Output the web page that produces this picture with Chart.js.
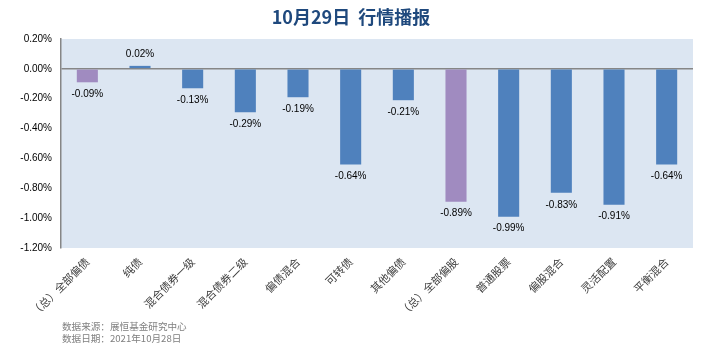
<!DOCTYPE html>
<html><head><meta charset="utf-8">
<script src="https://cdn.jsdelivr.net/npm/chart.js@4/dist/chart.umd.min.js"></script>
<style>html,body{margin:0;padding:0;background:#fff;}canvas{display:block;}</style>
</head><body>
<canvas id="c" width="721" height="355"></canvas>
<script>
const categories = ['（总）全部偏债','纯债','混合债券一级','混合债券二级','偏债混合','可转债','其他偏债','（总）全部偏股','普通股票','偏股混合','灵活配置','平衡混合'];
const values = [-0.09, 0.02, -0.13, -0.29, -0.19, -0.64, -0.21, -0.89, -0.99, -0.83, -0.91, -0.64];
const highlight = [true, false, false, false, false, false, false, true, false, false, false, false];
const yTicks = [0.2, 0, -0.2, -0.4, -0.6, -0.8, -1.0, -1.2];
const titleText = '10月29日  行情播报';
const sourceLines = ['数据来源：展恒基金研究中心', '数据日期：2021年10月28日'];

const BLUE = '#4F81BD', PURPLE = '#A08BC0';

const bgPlugin = {
  id: 'bg',
  beforeDraw(chart) {
    const {ctx, chartArea: a} = chart;
    ctx.save();
    ctx.fillStyle = '#DCE6F2';
    ctx.fillRect(a.left, a.top, a.right - a.left, a.bottom - a.top);
    ctx.restore();
  },
  afterDraw(chart) {
    const ctx = chart.ctx;
    ctx.save();
    ctx.fillStyle = '#1F497D';
    ctx.font = 'bold 18px "Noto Sans CJK SC", sans-serif';
    ctx.textAlign = 'center';
    ctx.textBaseline = 'middle';
    ctx.fillText(titleText, 351, 17);
    ctx.fillStyle = '#7F7F7F';
    ctx.font = '9.6px "Noto Sans CJK SC", sans-serif';
    ctx.textAlign = 'left';
    sourceLines.forEach((t, i) => ctx.fillText(t, 62, 326 + i * 12.5));
    ctx.restore();
  }
};

const labelPlugin = {
  id: 'vals',
  afterDatasetsDraw(chart) {
    const ctx = chart.ctx;
    const meta = chart.getDatasetMeta(0);
    ctx.save();
    ctx.fillStyle = '#000';
    ctx.font = '10px "Liberation Sans", Arial, sans-serif';
    ctx.textAlign = 'center';
    ctx.textBaseline = 'middle';
    meta.data.forEach((el, i) => {
      const v = values[i];
      const y = v < 0 ? el.y + 12 : el.y - 12;
      ctx.fillText(v.toFixed(2) + '%', el.x, y);
    });
    ctx.restore();
  }
};

new Chart(document.getElementById('c'), {
  type: 'bar',
  data: {
    labels: categories,
    datasets: [{
      data: values,
      backgroundColor: highlight.map(h => h ? PURPLE : BLUE),
      barPercentage: 0.4,
      categoryPercentage: 1.0
    }]
  },
  options: {
    responsive: false,
    animation: false,
    layout: {padding: {top: 39, right: 28, left: 0, bottom: 0}},
    plugins: {legend: {display: false}, tooltip: {enabled: false}, title: {display: false}},
    scales: {
      x: {
        grid: {display: false, drawTicks: false},
        border: {display: false},
        ticks: {
          minRotation: 45, maxRotation: 45, padding: 7,
          color: '#404040',
          font: {size: 11, family: '"Noto Sans CJK SC", sans-serif'}
        },
        afterFit(s) { s.height = 107; }
      },
      y: {
        min: -1.2, max: 0.2,
        afterBuildTicks(s) { s.ticks = yTicks.map(v => ({value: v})); },
        grid: {
          drawTicks: false,
          color: c => (c.tick && Math.abs(c.tick.value) < 1e-9) ? '#868686' : 'rgba(0,0,0,0)',
          lineWidth: 1.5
        },
        border: {display: true, color: '#868686', width: 1.5},
        ticks: {
          padding: 9,
          color: '#000',
          font: {size: 10, family: '"Liberation Sans", Arial, sans-serif'},
          callback: v => v.toFixed(2) + '%'
        },
        afterFit(s) { s.width = 61; }
      }
    }
  },
  plugins: [bgPlugin, labelPlugin]
});
</script>
</body></html>
